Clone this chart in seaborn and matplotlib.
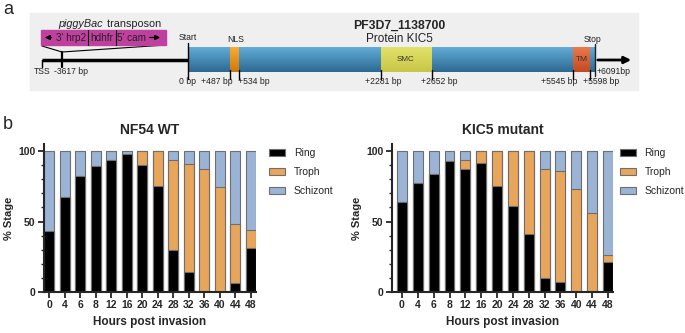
import numpy as np
import pandas as pd
import matplotlib
matplotlib.use('Agg')
import matplotlib.pyplot as plt
import seaborn as sns
from matplotlib.patches import Rectangle, Patch
from matplotlib.colors import LinearSegmentedColormap


hours = ['0', '4', '6', '8', '12', '16', '20', '24', '28', '32', '36', '40', '44', '48']

wt_ring = [43.5, 67.5, 82, 89.5, 93.5, 98, 90, 75, 30, 14, 0, 0, 6.5, 31]
wt_troph = [0, 0, 0, 0, 0, 0, 10, 25, 63.5, 77, 87.5, 74.5, 42, 13]
wt_schizont = [56.5, 32.5, 18, 10.5, 6.5, 2, 0, 0, 6.5, 9, 12.5, 25.5, 51.5, 56]

mut_ring = [64, 77.5, 83.5, 93, 87.5, 91.5, 75.5, 61, 41.5, 10, 7, 0, 0, 21]
mut_troph = [0, 0, 0, 0, 6.5, 8.5, 24.5, 39, 58.5, 77.5, 79, 73, 56, 5]
mut_schizont = [36, 22.5, 16.5, 7, 6, 0, 0, 0, 0, 12.5, 14, 27, 44, 74]

stages = ['Ring', 'Troph', 'Schizont']
stage_colors = {'Ring': '#000000', 'Troph': '#e8a55c', 'Schizont': '#9bb4d6'}

# gene map labels (schematic, not to scale)
gene_name = 'PF3D7_1138700'
protein_name = 'Protein KIC5'
domains = ['NLS', 'SMC', 'TM']
domain_bp = [('+487 bp', '+534 bp'), ('+2281 bp', '+2652 bp'), ('+5545 bp', '+5598 bp')]


sns.set_style('white')
plt.rcParams['font.family'] = ['Liberation Sans', 'DejaVu Sans']

fig = plt.figure(figsize=(6.85, 3.33), dpi=100)

# ---------- panel a : drawn in pixel coordinates ----------
ax_a = fig.add_axes([0, 0, 1, 1])
ax_a.set_zorder(0)
ax_a.patch.set_alpha(0)


def grad_box(x0, x1, y0, y1, top, bottom, z=3):
    cmap = LinearSegmentedColormap.from_list('g', [top, bottom])
    ax_a.imshow(np.linspace(0, 1, 40).reshape(-1, 1), extent=(x0, x1, y1, y0),
                cmap=cmap, aspect='auto', zorder=z, interpolation='bilinear')


small = 6.2
ax_a.add_patch(Rectangle((30, 13), 608, 77, color='#efefef', zorder=0))
ax_a.text(3, 14, 'a', fontsize=13, ha='left', va='baseline')
ax_a.text(3, 129, 'b', fontsize=13, ha='left', va='baseline')

# promoter line and transposon
ax_a.plot([42, 188], [60, 60], color='black', lw=2.5, zorder=2, solid_capstyle='butt')
ax_a.plot([42, 42], [60, 67], color='black', lw=1, zorder=2)
ax_a.plot([62, 62], [52, 67], color='black', lw=1.6, zorder=2)
ax_a.plot([42, 62, 166], [46, 52, 45], color='black', lw=0.8, zorder=2)
ax_a.add_patch(Rectangle((41, 30), 125, 15, color='#c040a0', zorder=3))
ax_a.plot([88, 88], [30, 45], color='black', lw=0.8, zorder=4)
ax_a.plot([116, 116], [30, 45], color='black', lw=0.8, zorder=4)
ax_a.annotate('', xy=(42, 37.5), xytext=(54, 37.5),
              arrowprops=dict(arrowstyle='-|>', color='black', lw=1, mutation_scale=7), zorder=4)
ax_a.annotate('', xy=(163, 37.5), xytext=(147, 37.5),
              arrowprops=dict(arrowstyle='-|>', color='black', lw=1, mutation_scale=7), zorder=4)
ax_a.text(71, 38, "3' hrp2", fontsize=7.2, ha='center', va='center', color='#222222', zorder=4)
ax_a.text(102, 38, 'hdhfr', fontsize=7.2, ha='center', va='center', color='#222222', zorder=4)
ax_a.text(132, 38, "5' cam", fontsize=7.2, ha='center', va='center', color='#222222', zorder=4)
ax_a.text(103, 24, 'piggyBac', fontsize=7.8, style='italic', ha='right', va='center', color='#222222')
ax_a.text(104, 24, ' transposon', fontsize=7.8, ha='left', va='center', color='#222222')
ax_a.text(51, 72, 'TSS', fontsize=small, ha='right', va='center', color='#222222')
ax_a.text(54, 72, '-3617 bp', fontsize=small, ha='left', va='center', color='#222222')

# gene body
grad_box(188, 595, 47, 72, '#62acd6', '#2c6a92')
grad_box(230, 239, 47, 72, '#f8ac30', '#cf780c', z=4)
grad_box(381, 432, 47, 72, '#e2e26a', '#c9c646', z=4)
grad_box(573, 590, 47, 72, '#ea7a4c', '#c24a22', z=4)
ax_a.text(406, 59.5, domains[1], fontsize=5.8, ha='center', va='center', color='#333333', zorder=5)
ax_a.text(581.5, 59.5, domains[2], fontsize=6, ha='center', va='center', color='#333333', zorder=5)
ax_a.text(236, 40, domains[0], fontsize=small, ha='center', va='center', color='#222222')

ax_a.plot([188, 188], [43, 79], color='black', lw=1, zorder=5)
ax_a.text(188, 38, 'Start', fontsize=small, ha='center', va='center', color='#222222')
ax_a.text(188, 82, '0 bp', fontsize=small, ha='center', va='center', color='#222222')
ax_a.plot([595, 595], [44, 76], color='#222222', lw=1, zorder=5)
ax_a.text(593, 40, 'Stop', fontsize=small, ha='center', va='center', color='#222222')
ax_a.annotate('', xy=(634, 60), xytext=(595, 60),
              arrowprops=dict(arrowstyle='-|>', color='black', lw=2, mutation_scale=10), zorder=5)
ax_a.text(597, 72, '+6091bp', fontsize=small, ha='left', va='center', color='#222222')

tick_x = [230, 239, 381, 432, 573, 590]
for xt in tick_x:
    ax_a.plot([xt, xt], [70, 79], color='black', lw=1, zorder=5)
labels = [lab for pair in domain_bp for lab in pair]
label_pos = [(233, 'right'), (238, 'left'), (383, 'center'), (439, 'center'), (577, 'right'), (583, 'left')]
for lab, (xt, ha) in zip(labels, label_pos):
    ax_a.text(xt, 82, lab, fontsize=small, ha=ha, va='center', color='#222222')

ax_a.text(399, 26, gene_name, fontsize=8.8, fontweight='bold', ha='center', va='center')
ax_a.text(399, 38.5, protein_name, fontsize=8.5, ha='center', va='center', color='#222222')

ax_a.set_xlim(0, 685)
ax_a.set_ylim(333, 0)
ax_a.axis('off')


# ---------- panel b : stacked bars ----------
def stage_plot(ax, ring, troph, schizont, title, xlim, legend_x):
    df = pd.DataFrame({'Hours': hours, 'Ring': ring, 'Troph': troph, 'Schizont': schizont})
    df['top_troph'] = df['Ring'] + df['Troph']
    df['top_schizont'] = df['top_troph'] + df['Schizont']
    for col, stage in [('top_schizont', 'Schizont'), ('top_troph', 'Troph'), ('Ring', 'Ring')]:
        sns.barplot(data=df, x='Hours', y=col, order=hours, color=stage_colors[stage],
                    saturation=1, width=0.63, edgecolor='#6e6e6e', linewidth=0.8, ax=ax)
    ax.set_xlim(*xlim)
    ax.set_ylim(0, 105)
    ax.set_yticks([0, 50, 100])
    ax.set_yticks(np.arange(0, 101, 10), minor=True)
    ax.tick_params(axis='y', which='major', length=4, width=1.3, left=True, labelsize=7.5, pad=2)
    ax.tick_params(axis='y', which='minor', length=2.2, width=1, left=True)
    ax.tick_params(axis='x', length=4, width=1.3, bottom=True, labelsize=7.5, pad=2)
    for lab in ax.get_xticklabels() + ax.get_yticklabels():
        lab.set_fontweight('bold')
    sns.despine(ax=ax)
    ax.spines['left'].set_linewidth(1.5)
    ax.spines['bottom'].set_linewidth(1.5)
    ax.set_title(title, fontsize=10, fontweight='bold', pad=7)
    ax.set_xlabel('Hours post invasion', fontsize=8.5, fontweight='bold', labelpad=4)
    ax.set_ylabel('% Stage', fontsize=8, fontweight='bold', labelpad=3)
    handles = [Patch(facecolor=stage_colors[s], edgecolor='#6e6e6e', linewidth=0.8, label=s) for s in stages]
    ax.legend(handles=handles, loc='upper left', bbox_to_anchor=(legend_x, 0.985), frameon=False,
              fontsize=7.5, handlelength=1.6, handleheight=0.6, labelspacing=0.85, handletextpad=0.8,
              borderaxespad=0, borderpad=0.2)


ax_wt = fig.add_axes([44 / 685, 1 - 292 / 333, 212 / 685, 148 / 333])
ax_mut = fig.add_axes([392 / 685, 1 - 292 / 333, 221 / 685, 148 / 333])
stage_plot(ax_wt, wt_ring, wt_troph, wt_schizont, 'NF54 WT', (-0.33, 13.33), 1.05)
stage_plot(ax_mut, mut_ring, mut_troph, mut_schizont, 'KIC5 mutant', (-0.63, 13.32), 1.02)

fig.savefig('out.png', dpi=100)
